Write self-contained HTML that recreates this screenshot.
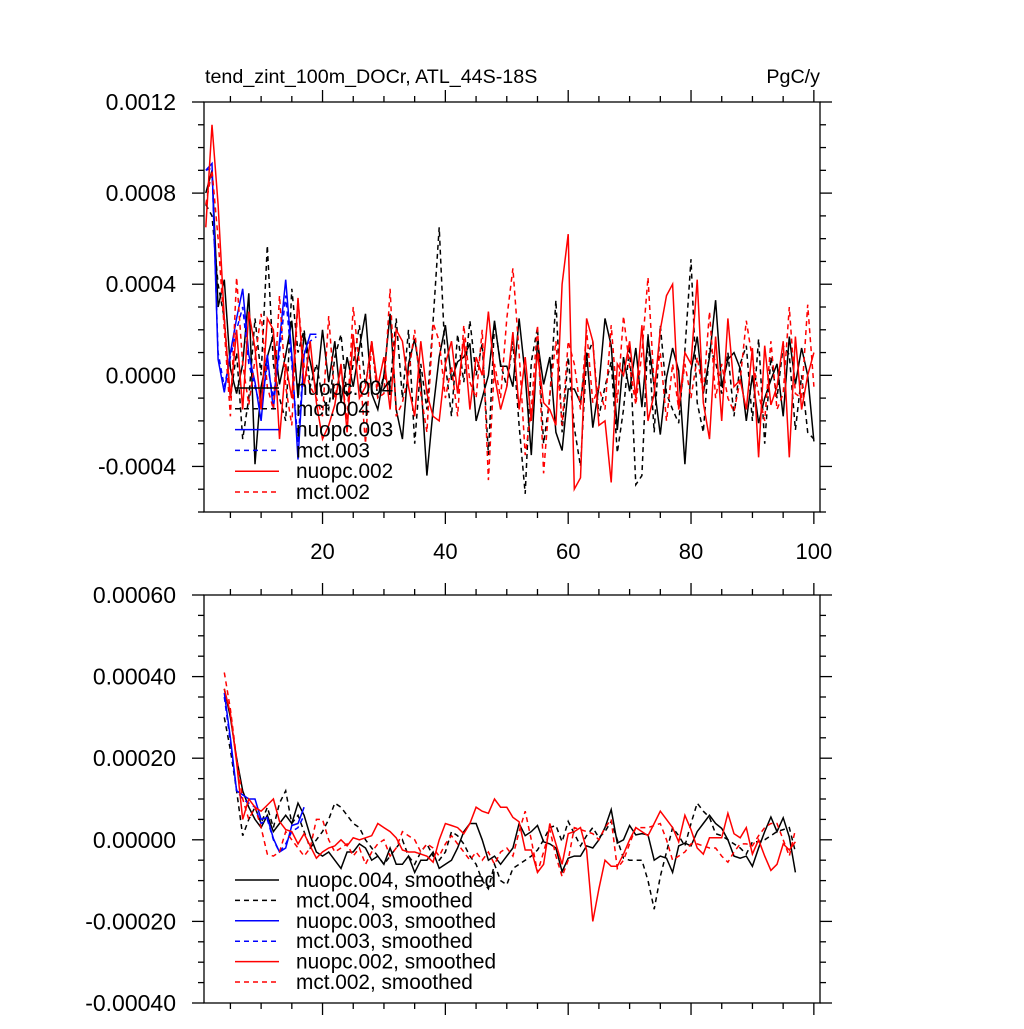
<!DOCTYPE html>
<html><head><meta charset="utf-8"><style>
html,body{margin:0;padding:0;background:#fff;}
svg text{font-family:"Liberation Sans",sans-serif;fill:#000;}
</style></head>
<body>
<svg id="chart" width="1024" height="1024" viewBox="0 0 1024 1024" xmlns="http://www.w3.org/2000/svg">
<rect width="1024" height="1024" fill="#fff"/>
<text x="205" y="83" font-size="19.7">tend_zint_100m_DOCr, ATL_44S-18S</text>
<text x="820" y="83" font-size="19.7" text-anchor="end">PgC/y</text>
<g id="top"></g>
<g id="bot"></g>
</svg>
<script>
// ---- top panel data (units 1e-4 PgC/y), years start at 1 ----
const topYears0 = 1;
const topNuopc004 = [8,9,3,4.2,0.3,-0.8,0.5,3.6,-3.9,-0.5,0.8,1.8,-0.4,0.9,2.4,-1,1.8,0.6,-0.7,2,
-0.3,1.5,-1.2,0.8,-0.5,1.2,2.7,-0.8,-1.5,0,2.7,-1.5,-2.8,0.5,1.6,-0.2,-4.4,-1.5,0.8,2.2,
-0.2,0.6,0.8,1.4,-2,-1,0,2.4,0.4,0.4,-0.5,2.5,0,-3.5,1.5,-0.4,0.8,-2.5,-3.3,-0.6,
-0.6,-1.2,1,-2.3,-0.5,2.5,1.3,-2.4,0.8,-0.7,1.2,-1.4,1.7,-0.5,-2.6,-0.1,1.2,0.2,-3.9,0.2,
1.7,-0.8,0.8,3.3,-0.5,0.7,1,0.3,-2,0,-2.1,-1,-0.2,0.5,-1.8,1.7,-0.4,1.2,0,-2.9];
const topMct004 = [7.5,7,4,2.5,-1,1,-2.8,-1,2.5,0,5.7,0.5,-1,-2,3.8,1,2,-0.5,0.5,-1,
-1.5,0.8,1.8,-1,0.5,2.2,-0.5,1.5,-1,0,-0.5,2.5,-1,2,-3,0.5,-1.5,2.4,6.5,0.5,
-1.8,1.8,-0.3,2.4,0,1.4,-3.5,2.3,0.5,-0.5,1.5,-2.2,-5.2,0.6,2.1,-3,-1,3.3,-2.5,0.8,
-2.3,-4,0.8,1.5,-1.8,-0.5,0.6,-3.4,-1.5,1.3,-4.8,-4.4,1.8,-2.5,2.2,-0.8,-1.5,-2.1,1.1,5.1,
-1.2,-2.5,1.2,0.6,-0.8,1,-1.8,0.5,1.3,-2,1.6,-3,0.8,-1,1.3,0.9,-2.4,0,-2.5,-2.8];
const topNuopc003 = [9,9.3,0.7,-0.75,1,2.5,3.8,0.9,-0.3,-2,0.9,-1.5,1.5,4.2,0.9,-3.7,0.9,1.8,1.8];
const topMct003 = [9,9.1,1,-0.5,0.8,2,3,0.5,-0.5,-1.5,0.5,-1,1,3.5,0.5,-3,1,1.5,1.7];
const topNuopc002 = [6.5,11,7.5,2.5,-1,2,-1.5,2.8,1.2,-1.5,2.5,2,-2.8,0.5,-1,3.4,-0.5,1.5,-1.2,-2.8,
-2.2,-1.3,0.5,-2.5,1.8,-1,-0.5,1.5,-0.5,0.8,-1.5,2,1.5,-0.5,-1.8,1.5,-0.8,-1.8,-2,0.5,
1.5,-0.8,1.6,-1.5,0.8,0,2.8,0,-1.5,-0.5,1.9,-1.5,0.8,-2,1,-1.2,-1.5,-2.2,4,6.2,
-5,-4.5,2.5,1.5,-2.2,-2,-4.7,0.5,0,1.5,-1,2.2,-2,-0.8,2,3.5,4,-1.5,1,0.5,
4.2,-1.2,-2.8,1.7,-2,2.5,-0.5,-0.2,-1.5,1.2,-3.6,1.3,-1.3,-0.5,1.5,-3.6,1.7,-1.5,0,1];
const topMct002 = [7.5,9,6,2,-1.8,4.3,0.5,-1.3,0.7,2.7,-0.5,-1.5,3.5,-0.5,-2.2,3.3,0.4,-0.5,-1,-1.8,
2.6,-1,0.3,-2,3,0.5,-3,1.5,-1,-0.8,3.8,-1.8,-1.2,0,2,-0.8,-2.5,2.3,1.5,-1,
0.4,-1.8,2.2,-0.3,-1,2,-4.6,0.5,-1,2.5,4.7,1,-3.5,-1.5,2.2,-4.3,-0.8,1.5,-2.2,1.5,
0.5,-1.5,2,-1.2,-0.5,-1.5,2.2,-1.2,2.6,0.4,-1.3,1,4.3,-0.5,1,-2,0.5,-1.5,0.5,-1,
0.8,-0.8,2.8,-1,0.5,-1,-1.6,-0.2,2.4,0.7,-0.8,-2,1.5,-1.5,-0.8,3,-0.8,-1,3.1,-0.5];
// ---- bottom panel data (units 1e-5 PgC/y), years start at 4 ----
const botYears0 = 4;
const botNuopc004 = [37,30,20,12,8,5,3,6,2,4,6,4,9,6,1,-3,-4,
-3,-5,-7,-3,-3,-1,-2,-5,-4,-6,-2,-6,-6,-4,-8,-5,-5,-3,-7,-6,-5,-2,2,4,4,0,-5,-4,-6,-4,
-2,4,1,2,3.5,-0.5,-1,-2,-7.8,-4.5,-4,-4,-1.5,-2,0,3,7.4,-0.8,0,3.5,1.2,1.5,1.2,-5,-4,-4.5,-8,-1.5,-0.8,-1.5,2,4,6,4,2.8,0,-4,-4.5,-4,-6.5,-2,2,5.6,2,5.4,0.7,-8];
const botMct004 = [30,22,12,1,5,8,4,8,3,9,12,4,6,2,-2,0,2,5,9,8,6,4,3,0,-2,-4,-6,-4,-2,0,-4,-6,-3,-1,-4,-5,-3,2,1,-1,-4,-6,-10,-12,-6,-10,-11,
-7,-6,-5,-4,-2.5,0,3,3.5,-0.5,4.5,1.5,-1.5,1,3,0.5,2,4.5,0,-4.5,-5,-5,-5,-10,-17,-9,-3,3,1,-1.5,4,9,7,5.5,1.5,1,0,-1,-2,-3.5,-0.5,-0.5,0,1,2,2.5,3,-3];
const botNuopc003 = [36,25,12,11,10,10,5,5.5,0.3,-3,-2,3.5,4,8];
const botMct003 = [35,24,12,10,9,8,4,5,0,-3,-1,2,3,6];
const botNuopc002 = [37,31,19,5,10,8,7,8.5,10,4.5,2.5,2,-1,1.5,-1.5,-4.5,-3,
-2,-1.5,0,-1.5,0.5,0,0.5,1,4,3,2,0.5,-2.5,-3,-3,-3.5,-4,-5.5,0,4,3.5,3,1.5,4,8,7,6.5,10,8,8,
5.5,4.4,-2.5,-2.5,-8,-6,4,-1,-6,1.5,2,3,-2.5,-20,-12,-5,-6.5,-6.5,-3.5,0,3,2,1,4,7,5,3,-0.5,6,2.5,-2,-3.5,0.5,0.5,0.5,6.5,1.5,0.5,3,-3.5,0,-4,-7.5,-6,-1,-2.5,-0.5];
const botMct002 = [41,32,20,10,5,8,3,-3.5,-4,-3,2,0,-2,-4,-2,5,5,0,-3,-2,-1,-4,-2,-6,-3,-1,0,-4,-2,2,1,0,-3,-1,-2,-4,-1,1,-1,-3,-5,-3,-5,-3,-6,-3,-2,
-4,2,7,0,-8,-3,2.5,-4,-9,-5,3,2.5,2,1.5,0,3,5,-7,-5,-1,3,3,3,3.5,4,0,-5,-4,-3,-1,-1,-1.5,-2,-2,-4,-5.5,-3,-1,-1,-1.5,1,3,4,4,0,-4,2.5];
const topTickVals = [-4,0,4,8,12];
const topTickLabels = ["-0.0004","0.0000","0.0004","0.0008","0.0012"];
const botTickVals = [-40,-20,0,20,40,60];
const botTickLabels = ["-0.00040","-0.00020","0.00000","0.00020","0.00040","0.00060"];
const xTickVals = [20,40,60,80,100];
const xTickLabels = ["20","40","60","80","100"];
const topLegend = ["nuopc.004","mct.004","nuopc.003","mct.003","nuopc.002","mct.002"];
const botLegend = ["nuopc.004, smoothed","mct.004, smoothed","nuopc.003, smoothed","mct.003, smoothed","nuopc.002, smoothed","mct.002, smoothed"];

const NS="http://www.w3.org/2000/svg";
const L=204,R=820;
const xs = t => L + (t-0.7)*(R-L)/100.3;
function mk(tag,parent){const e=document.createElementNS(NS,tag);parent.appendChild(e);return e;}
function line(p,x1,y1,x2,y2){const e=mk('line',p);e.setAttribute('x1',x1);e.setAttribute('y1',y1);e.setAttribute('x2',x2);e.setAttribute('y2',y2);e.setAttribute('stroke','#000');e.setAttribute('stroke-width','1.3');return e;}

function panel(g,T,B,vmin,vmax,minorStep,yVals,yLabels,showX,name){
  const ys=v=>B-(v-vmin)/(vmax-vmin)*(B-T);
  const box=mk('rect',g);box.setAttribute('x',L);box.setAttribute('y',T);box.setAttribute('width',R-L);box.setAttribute('height',B-T);box.setAttribute('fill','none');box.setAttribute('stroke','#000');box.setAttribute('stroke-width','1.3');
  
  
  for(let v=vmin;v<=vmax+1e-9;v+=minorStep){
    const y=ys(v);const maj=yVals.some(m=>Math.abs(m-v)<1e-6);const len=maj?12:6;
    line(g,L-len,y,L,y);line(g,R,y,R+len,y);
  }
  yVals.forEach((v,i)=>{const t=mk('text',g);t.setAttribute('x',176);t.setAttribute('y',ys(v)+8);t.setAttribute('font-size','23');t.setAttribute('text-anchor','end');t.textContent=yLabels[i];
    
    });
  for(let tt=5;tt<=100;tt+=5){const x=xs(tt);const maj=tt%20===0;const len=maj?12:6;
    line(g,x,T-len,x,T);line(g,x,B,x,B+len);}
  if(showX){xTickVals.forEach((v,i)=>{const t=mk('text',g);t.setAttribute('x',xs(v));t.setAttribute('y',B+47);t.setAttribute('font-size','22');t.setAttribute('text-anchor','middle');t.textContent=xTickLabels[i];
    
    });}
  return ys;
}
function series(g,ys,vals,start,color,dash,name){
  const p=mk('polyline',g);
  p.setAttribute('points',vals.map((v,i)=>xs(start+i).toFixed(1)+','+ys(v).toFixed(1)).join(' '));
  p.setAttribute('fill','none');p.setAttribute('stroke',color);p.setAttribute('stroke-width','1.5');
  if(dash)p.setAttribute('stroke-dasharray','5,4');
  
  
}
function legend(g,labels,y0,dy,name){
  const cols=['#000','#000','#00f','#00f','#f00','#f00'];
  labels.forEach((lab,i)=>{const y=y0+i*dy;
    const l=line(g,235,y,279,y);l.setAttribute('stroke',cols[i]);l.setAttribute('stroke-width','1.5');if(i%2)l.setAttribute('stroke-dasharray','5,4');
    
    
    const t=mk('text',g);t.setAttribute('x',296);t.setAttribute('y',y+7);t.setAttribute('font-size','20.8');t.textContent=lab;
    
    });
}
const gt=document.getElementById('top');


const yt=panel(gt,102,512,-6,12,1,topTickVals,topTickLabels,true,'top');
series(gt,yt,topNuopc004,topYears0,'#000',false,'top-nuopc004-line');
series(gt,yt,topMct004,topYears0,'#000',true,'top-mct004-line');
series(gt,yt,topMct003,topYears0,'#00f',true,'top-mct003-line');
series(gt,yt,topNuopc003,topYears0,'#00f',false,'top-nuopc003-line');
series(gt,yt,topNuopc002,topYears0,'#f00',false,'top-nuopc002-line');
series(gt,yt,topMct002,topYears0,'#f00',true,'top-mct002-line');
legend(gt,topLegend,388,20.8,'top-legend');

const gb=document.getElementById('bot');


const yb=panel(gb,595,1003,-40,60,5,botTickVals,botTickLabels,false,'bottom');
series(gb,yb,botNuopc004,botYears0,'#000',false,'bottom-nuopc004-smoothed');
series(gb,yb,botMct004,botYears0,'#000',true,'bottom-mct004-smoothed');
series(gb,yb,botMct003,botYears0,'#00f',true,'bottom-mct003-smoothed');
series(gb,yb,botNuopc003,botYears0,'#00f',false,'bottom-nuopc003-smoothed');
series(gb,yb,botNuopc002,botYears0,'#f00',false,'bottom-nuopc002-smoothed');
series(gb,yb,botMct002,botYears0,'#f00',true,'bottom-mct002-smoothed');
legend(gb,botLegend,880,20.4,'bottom-legend');
</script>
</body></html>
